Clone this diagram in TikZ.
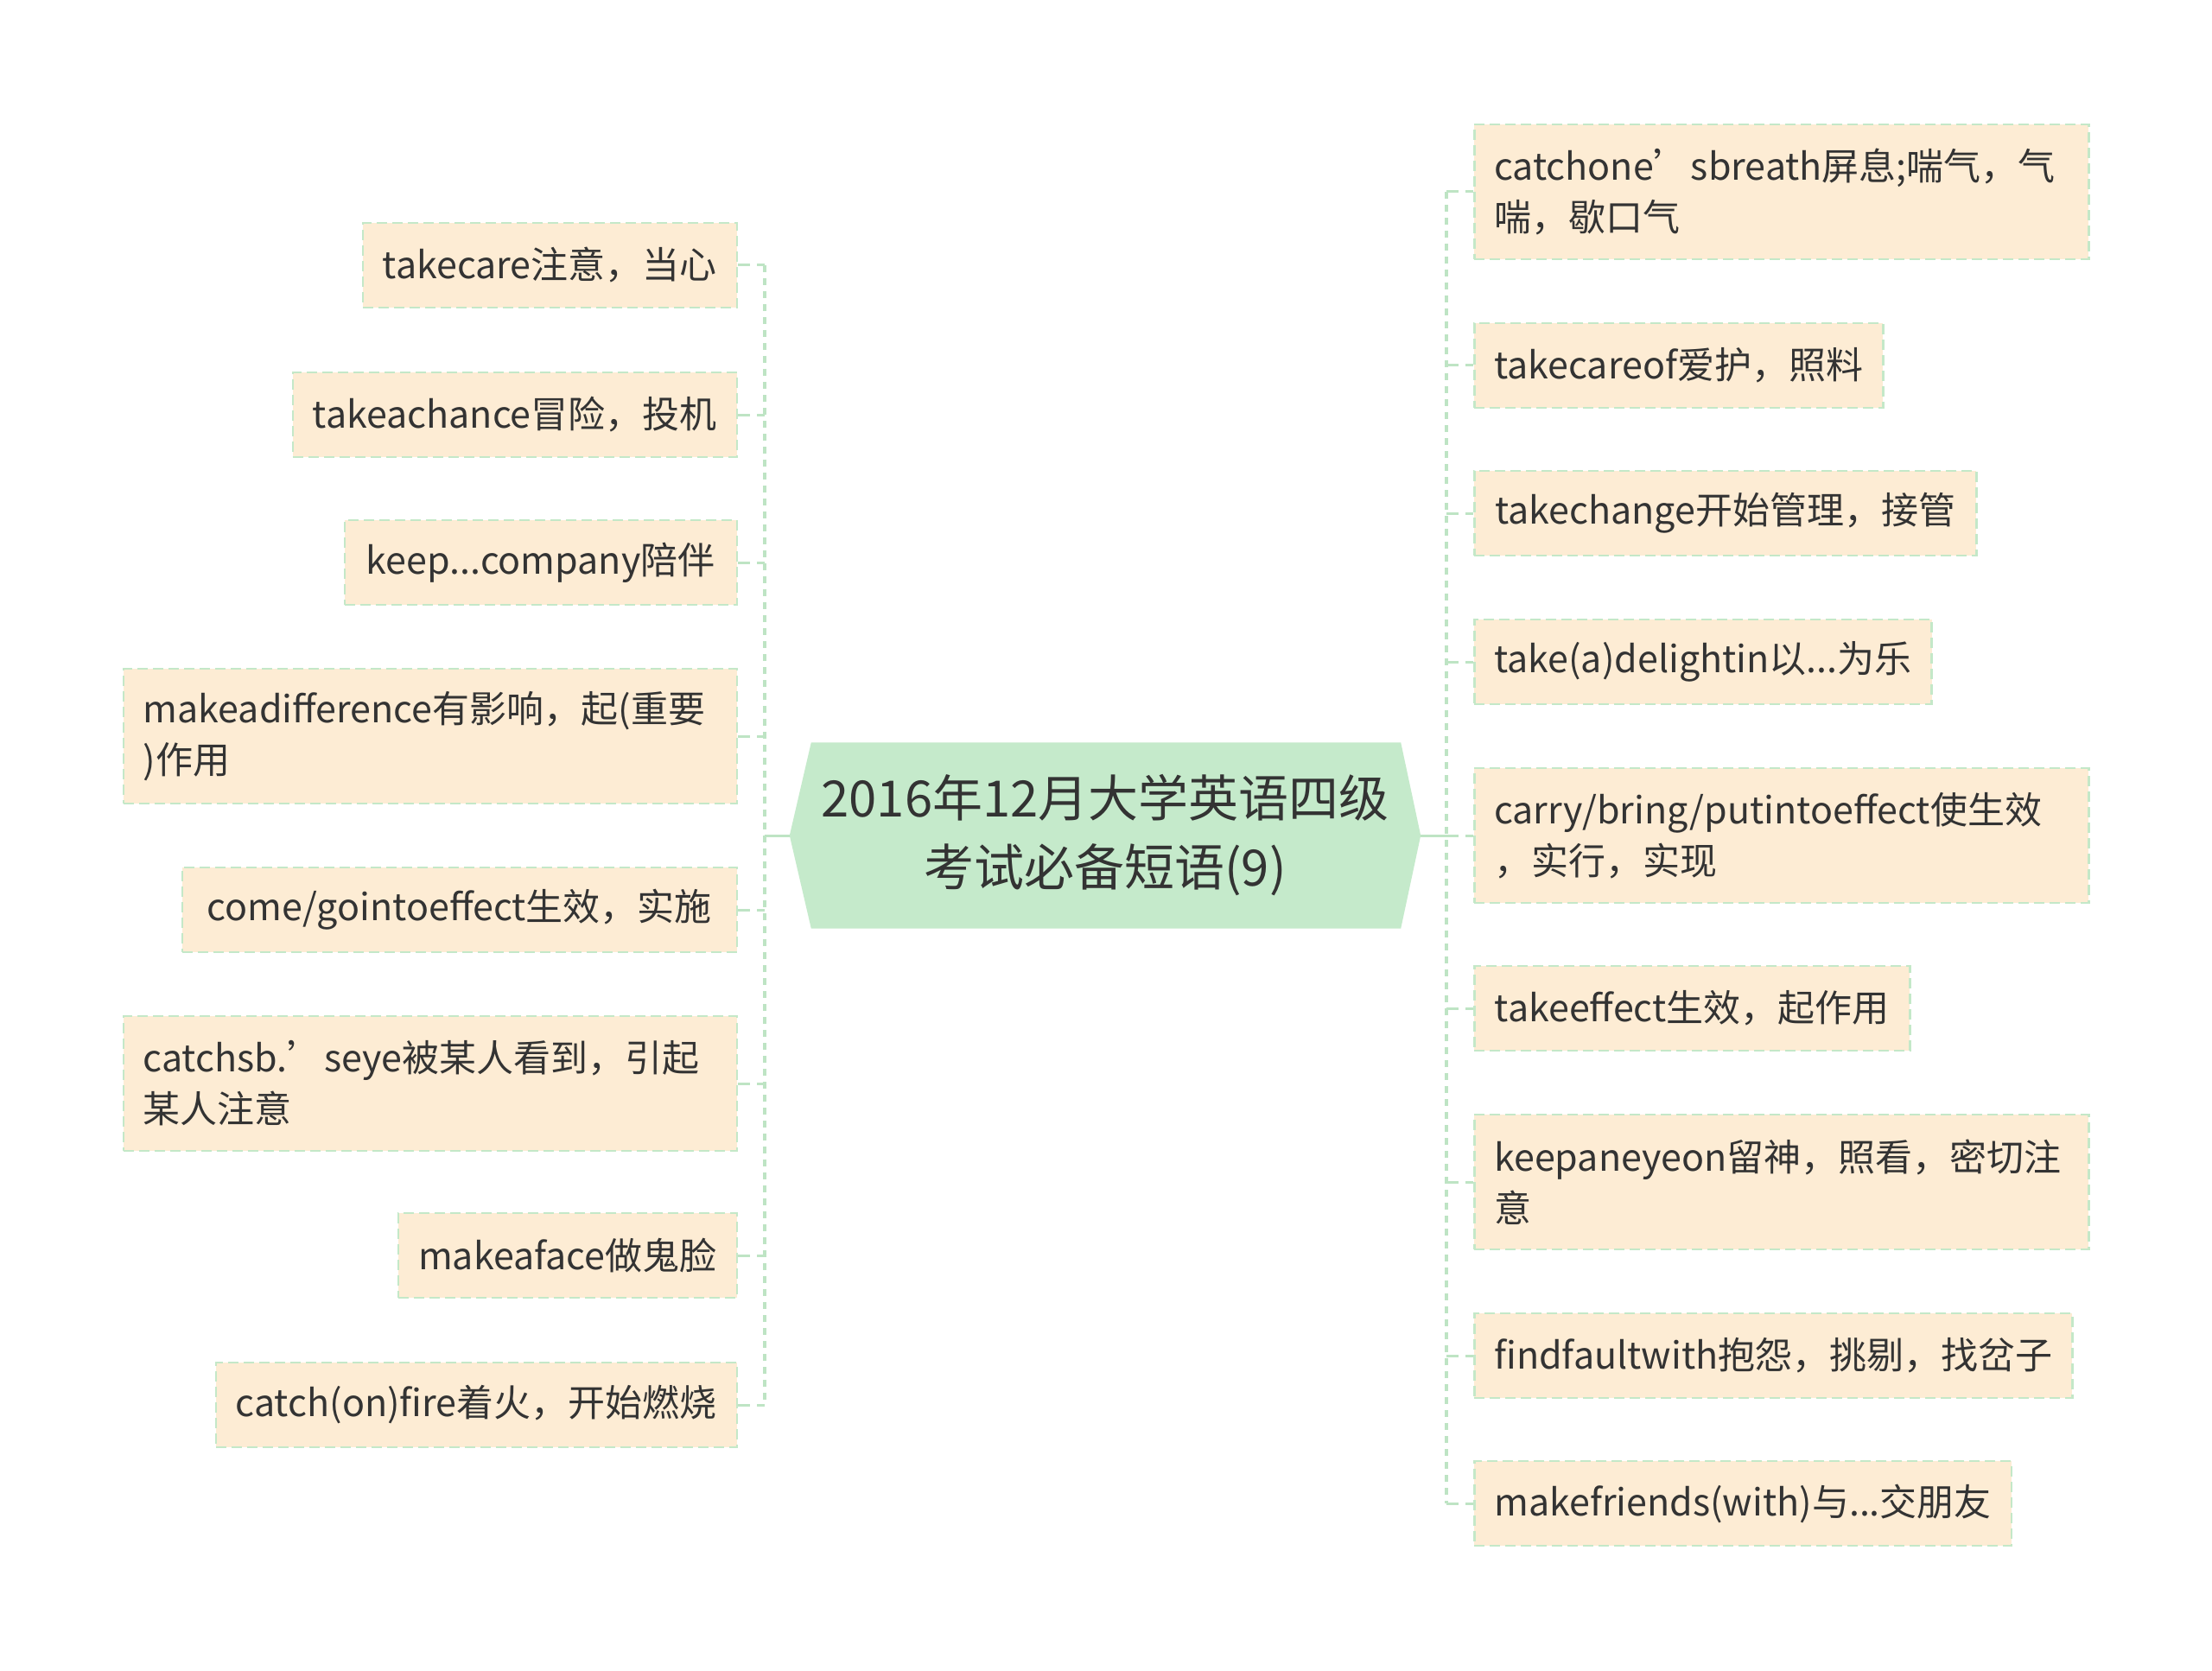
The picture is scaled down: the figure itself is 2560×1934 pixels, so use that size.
\documentclass[tikz,border=0pt]{standalone}
\usepackage{fontspec}
\setmainfont{Noto Sans CJK SC}
\usetikzlibrary{backgrounds}
\definecolor{peach}{RGB}{253,236,212}
\definecolor{boxline}{RGB}{196,232,200}
\definecolor{rootfill}{RGB}{197,234,203}
\definecolor{linkgreen}{RGB}{190,228,196}
\definecolor{txt}{RGB}{51,51,51}
\tikzset{
 leaf/.style={draw=boxline, line width=2.5pt, dash pattern=on 12pt off 6pt, fill=peach, text=txt,
   font=\fontsize{43}{59}\selectfont, inner xsep=23pt, inner ysep=0pt, minimum height=98pt},
 leafL/.style={leaf, anchor=east},
 leafR/.style={leaf, anchor=west},
 twoline/.style={text width=#1, align=left, minimum height=156pt},
 trunk/.style={draw=linkgreen, line width=3.2pt, dash pattern=on 8pt off 7pt},
 branch/.style={draw=linkgreen, line width=3pt, dash pattern=on 14pt off 8pt},
 rootlink/.style={draw=linkgreen, line width=3pt},
 rootbox/.style={minimum width=730pt, minimum height=215pt, inner sep=0pt, text=txt,
   font=\fontsize{58}{80}\selectfont, align=center},
}
\begin{document}
\begin{tikzpicture}[x=1pt,y=-1pt]
\useasboundingbox (0,0) rectangle (2560,1934);
% root
\node[rootbox] (root) at (1279,967) {2016年12月大学英语四级\\考试必备短语(9)};
\begin{scope}[on background layer]
\fill[white] (0,0) rectangle (2560,1934);
\fill[rootfill] (root.west) -- ([xshift=25pt]root.north west) -- ([xshift=-23pt]root.north east)
  -- (root.east) -- ([xshift=-23pt]root.south east) -- ([xshift=25pt]root.south west) -- cycle;
\end{scope}
% left leaves
\node[leafL, minimum width=431pt] (l1) at (854,307) {takecare注意，当心};
\node[leafL, minimum width=513pt] (l2) at (854,480) {takeachance冒险，投机};
\node[leafL, minimum width=454pt] (l3) at (854,651) {keep...company陪伴};
\node[leafL, twoline=664pt] (l4) at (854,852) {makeadifference有影响，起(重要\\)作用};
\node[leafL, minimum width=642pt] (l5) at (854,1053) {come/gointoeffect生效，实施};
\node[leafL, twoline=664pt] (l6) at (854,1254) {catchsb.’seye被某人看到，引起\\某人注意};
\node[leafL, minimum width=392pt] (l7) at (854,1453) {makeaface做鬼脸};
\node[leafL, minimum width=603pt] (l8) at (854,1626) {catch(on)fire着火，开始燃烧};
% right leaves
\node[leafR, twoline=665pt] (r1) at (1705,222) {catchone’sbreath屏息;喘气，气\\喘，歇口气};
\node[leafR, minimum width=473pt] (r2) at (1705,423) {takecareof爱护，照料};
\node[leafR, minimum width=581pt] (r3) at (1705,594) {takechange开始管理，接管};
\node[leafR, minimum width=529pt] (r4) at (1705,766) {take(a)delightin以...为乐};
\node[leafR, twoline=665pt] (r5) at (1705,967) {carry/bring/putintoeffect使生效\\，实行，实现};
\node[leafR, minimum width=504pt] (r6) at (1705,1167) {takeeffect生效，起作用};
\node[leafR, twoline=665pt] (r7) at (1705,1368) {keepaneyeon留神，照看，密切注\\意};
\node[leafR, minimum width=689pt] (r8) at (1705,1569) {findfaultwith抱怨，挑剔，找岔子};
\node[leafR, minimum width=618pt] (r9) at (1705,1740) {makefriends(with)与...交朋友};
% trunks
\coordinate (LT) at ([xshift=31pt]l1.east);
\coordinate (RT) at ([xshift=-31pt]r1.west);
\draw[trunk] (LT) -- (l8.east -| LT);
\draw[trunk] (RT) -- (r9.west -| RT);
\foreach \n in {l1,l2,l3,l4,l5,l6,l7,l8}{\draw[branch] (\n.east) -- (\n.east -| LT);}
\foreach \n in {r1,r2,r3,r4,r5,r6,r7,r8,r9}{\draw[branch] (\n.west -| RT) -- (\n.west);}
\draw[rootlink] (root.west -| LT) -- (root.west);
\draw[rootlink] (root.east) -- (root.east -| RT);
\end{tikzpicture}
\end{document}
